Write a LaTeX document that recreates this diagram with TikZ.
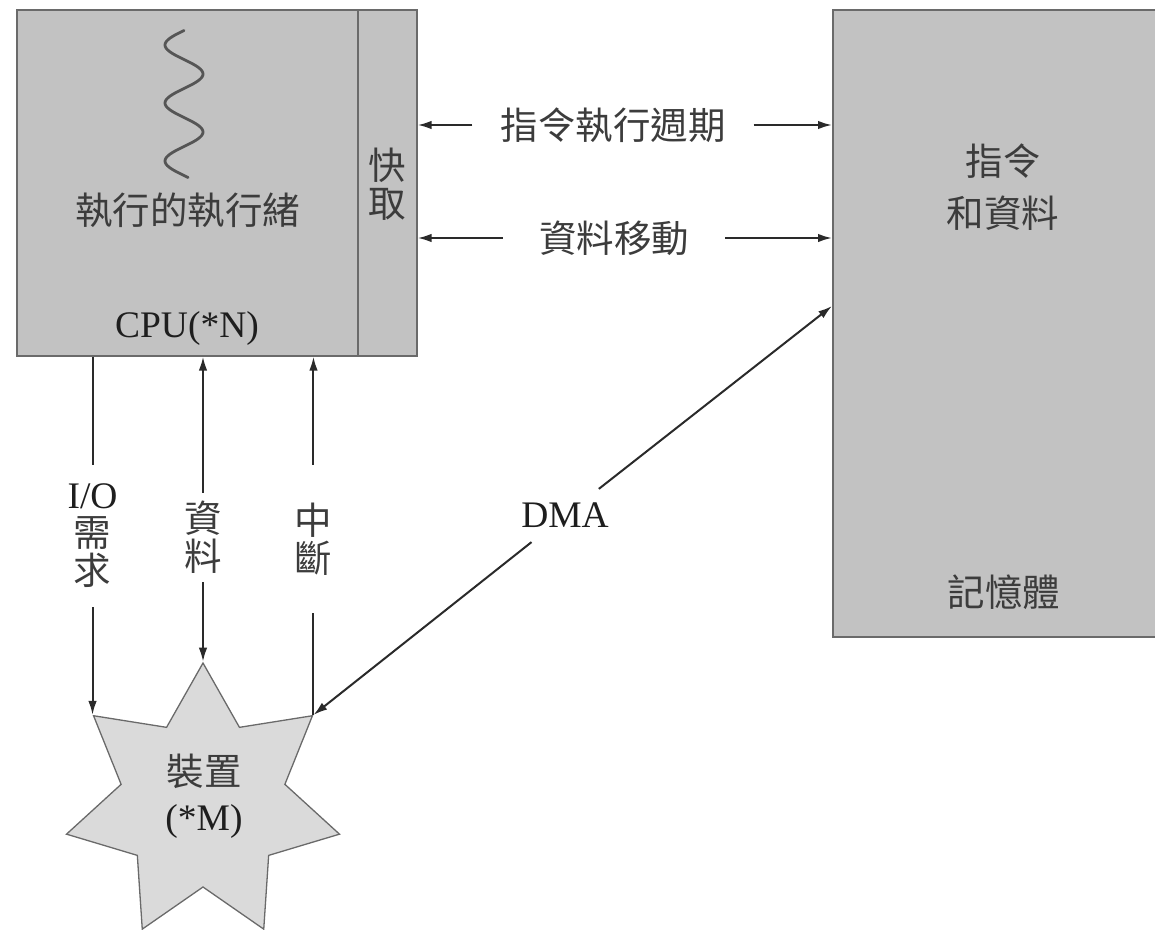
\documentclass[tikz,border=0pt]{standalone}
\usepackage{fontspec}
\setmainfont{Liberation Serif}
\newfontfamily\cjk{Noto Sans CJK TC}
\usetikzlibrary{arrows.meta,shapes.geometric}
\definecolor{boxfill}{HTML}{C2C2C2}
\definecolor{starfill}{HTML}{DADADA}
\definecolor{edgegray}{HTML}{6A6A6A}
\definecolor{linegray}{HTML}{2A2A2A}
\definecolor{txtgray}{HTML}{3C3C3C}
\definecolor{latintxt}{HTML}{1E1E1E}
\definecolor{squig}{HTML}{555555}
\newcommand\zh[1]{{\cjk #1}}
\begin{document}
\begin{tikzpicture}[x=1pt,y=-1pt,
  box/.style={draw=edgegray, line width=1.6pt, fill=boxfill, inner sep=0, anchor=north west},
  lbl/.style={font=\fontsize{37.5}{38}\selectfont, text=txtgray, inner sep=0, align=center},
  conn/.style={draw=linegray, line width=2pt},
  arr/.style={conn, -{Latex[length=14pt,width=8.5pt]}},
]
\useasboundingbox (0,0) rectangle (1155,929);
% boxes
\node[box, minimum width=341, minimum height=346] (cpu) at (16,9) {};
\node[box, minimum width=59, minimum height=346] (cache) at (357,9) {};
\node[box, minimum width=343, minimum height=627] (mem) at (832,9) {};
% device star
\node[star, star points=7, star point ratio=1.667, minimum size=280, draw=edgegray, line width=1.3pt, fill=starfill, inner sep=0] (dev) at (203,803) {};
% thread squiggle
\draw[draw=squig, line width=2.8pt, line cap=round] plot[domain=30.5:177.5, samples=100, smooth] ({184-19*cos(6.2069*(\x-45))}, \x);
% labels
\node[lbl] (thread) at (187.5,210) {\zh{執行的執行緒}};
\node[lbl, anchor=base, text=latintxt] (cpulbl) at (187,337) {CPU(*N)};
\node[lbl] (cachelbl) at (387,184) {\zh{快}\\\zh{取}};
\node[lbl, font=\fontsize{37.5}{52}\selectfont] (memlbl) at (1003,187) {\zh{指令}\\\zh{和資料}};
\node[lbl] (memname) at (1004,592) {\zh{記憶體}};
\node[lbl, font=\fontsize{37.5}{45}\selectfont] (devlbl) at (204,796) {\zh{裝置}\\{\color{latintxt}(*M)}};
% horizontal connectors
\node[lbl, inner xsep=28] (cyc) at (613,125) {\zh{指令執行週期}};
\node[lbl, inner xsep=36] (mov) at (614,238) {\zh{資料移動}};
\draw[arr] (cyc.west) -- (cyc.west -| cache.east);
\draw[arr] (cyc.east) -- (cyc.east -| mem.west);
\draw[arr] (mov.west) -- (mov.west -| cache.east);
\draw[arr] (mov.east) -- (mov.east -| mem.west);
% vertical connectors
\coordinate (yio) at (0,536);
\coordinate (ydat) at (0,537.5);
\coordinate (yint) at (0,539);
\node[lbl, minimum height=142] (io) at (dev.outer point 2 |- yio) {{\color{latintxt}I/O}\\\zh{需}\\\zh{求}};
\node[lbl, minimum height=89] (dat) at (dev.outer point 1 |- ydat) {\zh{資}\\\zh{料}};
\node[lbl, minimum height=148] (intr) at (dev.outer point 7 |- yint) {\zh{中}\\\zh{斷}};
\draw[conn] (cpu.south -| io.north) -- (io.north);
\draw[arr] (io.south) -- (dev.outer point 2);
\draw[arr] (dat.north) -- (cpu.south -| dat.north);
\draw[arr] (dat.south) -- (dev.outer point 1);
\draw[arr] (intr.north) -- (cpu.south -| intr.north);
\draw[conn] (intr.south) -- (dev.outer point 7);
% DMA
\coordinate (dmaend) at (832,306);
\node[lbl, inner sep=14, text=latintxt] (dma) at (565,515.5) {DMA};
\draw[arr] (dma) -- (dmaend);
\draw[arr] (dma) -- (dev.outer point 7);
\end{tikzpicture}
\end{document}
